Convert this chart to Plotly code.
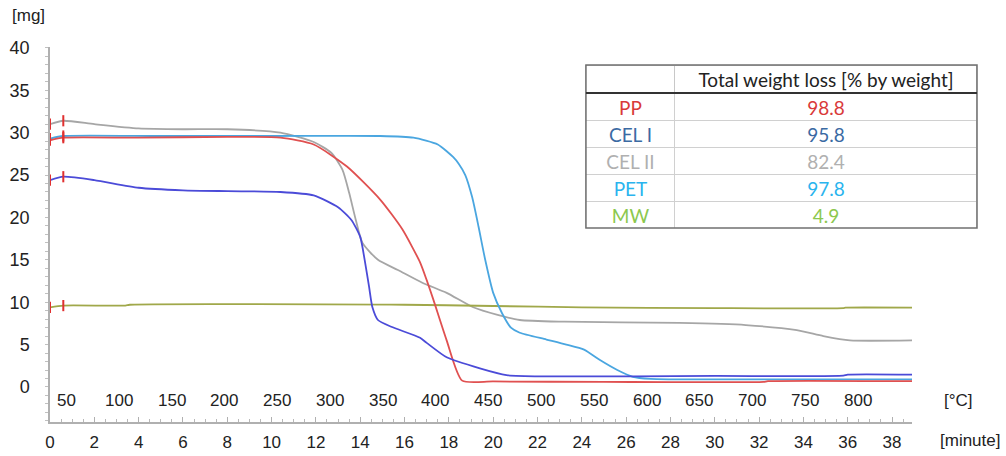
import plotly.graph_objects as go

# ---------------- data ----------------
pp_t = [0, 0.6, 4, 8, 10.4, 11.9, 13.4, 14.9, 15.9, 16.7, 17.0, 17.3, 17.9, 18.6, 20, 25, 32.2, 32.4, 38.9]
pp_w = [29.1, 29.4, 29.4, 29.5, 29.4, 28.6, 26.0, 22.1, 18.6, 14.7, 12.6, 10.3, 5.5, 0.75, 0.65, 0.6, 0.6, 0.68, 0.68]

cel1_t = [0, 0.6, 2, 4, 6, 8, 10.4, 11.9, 13.0, 13.6, 14.0, 14.2, 14.4, 14.55, 14.8, 15.4,
          16.7, 17.0, 17.9, 19.4, 20.6, 22.4, 30, 35.8, 36.0, 38.9]
cel1_w = [24.4, 24.8, 24.4, 23.5, 23.2, 23.1, 23.0, 22.6, 21.2, 19.7, 17.7, 15.0, 11.8, 9.4, 7.9, 7.1,
          5.8, 5.2, 3.5, 2.2, 1.4, 1.25, 1.3, 1.33, 1.45, 1.45]

cel2_t = [0, 0.6, 2, 4, 6, 8, 10.4, 11.9, 12.7, 13.2, 13.5, 13.8, 14.1, 14.8, 15.7, 16.8,
          17.9, 19.1, 20.2, 21.2, 23.2, 28.4, 31.4, 33.7, 34.9, 36.1, 38.9]
cel2_w = [31.0, 31.4, 31.0, 30.5, 30.4, 30.4, 30.0, 28.9, 27.6, 25.6, 22.9, 19.7, 17.0, 15.0, 13.8, 12.3,
          11.1, 9.4, 8.5, 7.9, 7.7, 7.55, 7.3, 6.7, 6.0, 5.5, 5.5]

pet_t = [0, 0.6, 5, 10, 14.9, 16.4, 17.5, 18.2, 18.45, 18.74, 19.05, 19.34, 19.64, 20.0, 20.4, 20.8, 21.2,
         22.4, 23.3, 24.1, 24.8, 25.6, 26.3, 27.1, 28, 38.9]
pet_w = [29.3, 29.6, 29.6, 29.6, 29.6, 29.4, 28.6, 27.1, 26.3, 25.0, 22.4, 18.9, 15.0, 11.1, 8.7, 7.0, 6.4,
         5.6, 5.0, 4.4, 3.2, 2.0, 1.2, 0.95, 0.9, 0.9]

mw_t = [0, 0.6, 3.4, 3.6, 16, 20, 24, 30, 35.8, 35.9, 38.9]
mw_w = [9.4, 9.6, 9.6, 9.7, 9.7, 9.55, 9.4, 9.3, 9.3, 9.35, 9.35]

materials = ["PP", "CEL I", "CEL II", "PET", "MW"]
weight_loss = ["98.8", "95.8", "82.4", "97.8", "4.9"]
table_header = ["", "Total weight loss [% by weight]"]

temp_labels = [50, 100, 150, 200, 250, 300, 350, 400, 450, 500, 550, 600, 650, 700, 750, 800]
HEAT_RATE = 21.0   # °C per minute
T_START = 34.7     # °C at minute 0

# ---------------- styles ----------------
line_colors = {"PP": "#e05050", "CEL I": "#4b4bd8", "CEL II": "#a6a6a6", "PET": "#4aa6e0", "MW": "#a0a84a"}
text_colors = {"PP": "#d93a3a", "CEL I": "#3b6aa3", "CEL II": "#b0b0b0", "PET": "#2ab4ee", "MW": "#8cc84e"}

series = [("CEL II", cel2_t, cel2_w), ("MW", mw_t, mw_w), ("PET", pet_t, pet_w),
          ("PP", pp_t, pp_w), ("CEL I", cel1_t, cel1_w)]

fig = go.Figure()
for name, t, w in series:
    fig.add_trace(go.Scatter(x=t, y=w, mode="lines", name=name,
                             line=dict(color=line_colors[name], width=1.8, shape="spline", smoothing=0.6),
                             showlegend=False, hoverinfo="x+y+name"))

# red start markers on each curve (first two data points)
mx, my = [], []
for name, t, w in series:
    mx += t[:2]
    my += w[:2]
fig.add_trace(go.Scatter(x=mx, y=my, mode="markers", showlegend=False, hoverinfo="skip", cliponaxis=False,
                         marker=dict(symbol="line-ns", size=8, line=dict(color="#e03030", width=2))))

TAB_X = [0.5726, 0.9904]
PLOT_L, PLOT_R, PLOT_T, PLOT_B = 50, 20, 47, 34
W, H = 1006, 456
pw = W - PLOT_L - PLOT_R
ph = H - PLOT_T - PLOT_B
TAB_Y = [(422 - 228) / ph, (422 - 65) / ph]

# table
fig.add_trace(go.Table(
    domain=dict(x=TAB_X, y=TAB_Y),
    columnwidth=[89, 302],
    header=dict(values=table_header, height=28, align="center",
                font=dict(family="Lato, Open Sans, sans-serif", size=19, color="#222"),
                fill_color="white", line=dict(color="#c8c8c8", width=1)),
    cells=dict(values=[materials, weight_loss], height=27, align="center",
               font=dict(family="Lato, Open Sans, sans-serif", size=19,
                         color=[[text_colors[m] for m in materials]] * 2),
               fill_color="white", line=dict(color="#d0d0d0", width=1)),
))

# table outline and header rule
fig.add_shape(type="rect", xref="paper", yref="paper", x0=TAB_X[0], x1=TAB_X[1],
              y0=TAB_Y[0], y1=TAB_Y[1], line=dict(color="#707070", width=1.5), layer="above")
fig.add_shape(type="line", xref="paper", yref="paper", x0=TAB_X[0], x1=TAB_X[1],
              y0=(422 - 93) / ph, y1=(422 - 93) / ph, line=dict(color="#333", width=2), layer="above")

# temperature labels inside the plot
for T in temp_labels:
    fig.add_annotation(x=(T - T_START) / HEAT_RATE, y=(422 - 400) / ph, xref="x", yref="paper",
                       text=str(T), showarrow=False, xanchor="center", yanchor="middle",
                       font=dict(family="Liberation Sans, Arial, sans-serif", size=17, color="#222"))

axis_font = dict(family="Liberation Sans, Arial, sans-serif", size=17, color="#222")
fig.add_annotation(x=(28 - PLOT_L) / pw, y=(422 - 15) / ph, xref="paper", yref="paper", text="[mg]",
                   showarrow=False, xanchor="center", yanchor="middle", font=axis_font)
fig.add_annotation(x=(958 - PLOT_L) / pw, y=(422 - 400) / ph, xref="paper", yref="paper", text="[°C]",
                   showarrow=False, xanchor="center", yanchor="middle", font=axis_font)
fig.add_annotation(x=(970 - PLOT_L) / pw, y=(422 - 440) / ph, xref="paper", yref="paper", text="[minute]",
                   showarrow=False, xanchor="center", yanchor="middle", font=axis_font)

fig.update_layout(
    width=W, height=H,
    margin=dict(l=PLOT_L, r=PLOT_R, t=PLOT_T, b=PLOT_B, autoexpand=False),
    paper_bgcolor="white", plot_bgcolor="white",
    xaxis=dict(domain=[0, 862 / pw], range=[0, 38.9], dtick=2, showgrid=False, zeroline=False,
               automargin=False,
               showline=True, linecolor="#b0b0b0", linewidth=1.5,
               ticks="inside", ticklen=5, tickcolor="#b0b0b0",
               minor=dict(dtick=0.5, ticks="inside", ticklen=3, tickcolor="#b8b8b8"),
               tickfont=axis_font, ticklabelstandoff=4),
    yaxis=dict(range=[-4.13, 40.1], tickvals=[0, 5, 10, 15, 20, 25, 30, 35, 40], showgrid=False,
               automargin=False,
               zeroline=False, showline=True, linecolor="#b0b0b0", linewidth=1.5,
               ticks="outside", ticklen=3, tickcolor="#c0c0c0",
               minor=dict(dtick=1, ticks="outside", ticklen=3, tickcolor="#c0c0c0"),
               tickfont=dict(family="Liberation Sans, Arial, sans-serif", size=18, color="#222"),
               ticklabelstandoff=12),
)

fig.write_html("out.html", config={"displayModeBar": False},
               post_script="document.body.style.margin='0';")
